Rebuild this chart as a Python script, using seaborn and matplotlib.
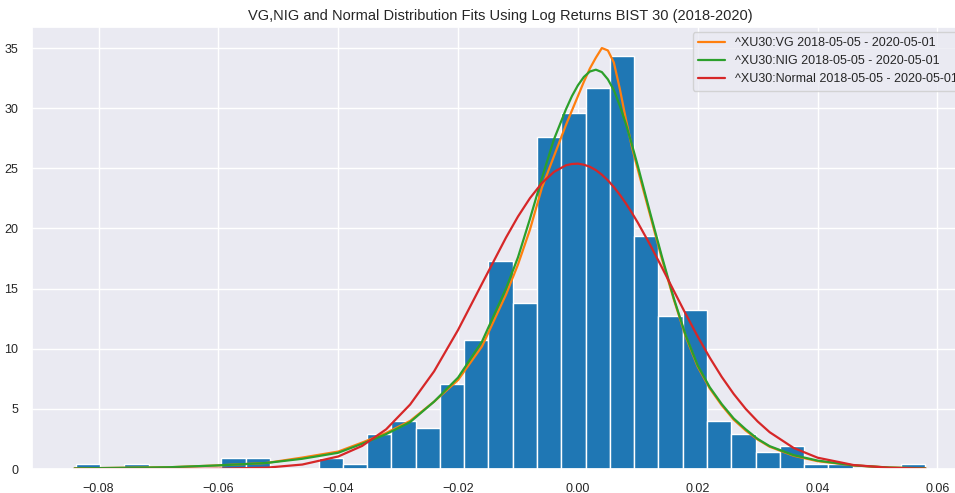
import matplotlib
matplotlib.use("Agg")
import matplotlib.pyplot as plt
import numpy as np
import pandas as pd
import seaborn as sns

# histograma das log-retornos (densidade por classe), 35 classes
bin_min = -0.0838
bin_max = 0.058
n_bins = 35
bin_heights = [0.45, 0, 0.45, 0, 0, 0, 0.95, 0.95, 0, 0,
               0.95, 0.45, 2.95, 3.95, 3.45, 7.05, 10.7, 17.3, 13.8, 27.6,
               29.6, 31.7, 34.3, 19.4, 12.7, 13.2, 4.0, 2.95, 1.45, 1.95,
               0.45, 0.45, 0, 0, 0.45]

# curvas ajustadas
x_fit = [-0.084, -0.076, -0.068, -0.060, -0.052, -0.046, -0.040, -0.036, -0.032, -0.028,
         -0.024, -0.020, -0.016, -0.012, -0.010, -0.008, -0.006, -0.004, -0.002, -0.001,
         0.000, 0.001, 0.002, 0.003, 0.004, 0.005, 0.006, 0.007, 0.008, 0.009,
         0.010, 0.012, 0.014, 0.016, 0.018, 0.020, 0.022, 0.024, 0.026, 0.028,
         0.030, 0.032, 0.036, 0.040, 0.046, 0.052, 0.058]
vg_fit = [0.05, 0.1, 0.15, 0.3, 0.5, 0.95, 1.45, 2.2, 3.0, 4.0,
          5.6, 7.4, 10.2, 14.5, 17.0, 19.9, 23.4, 26.0, 28.6, 29.8,
          31.0, 32.2, 33.3, 34.2, 35.0, 34.8, 33.8, 31.6, 29.1, 26.8,
          24.9, 21.2, 17.5, 14.1, 11.0, 8.5, 6.7, 5.3, 4.1, 3.2,
          2.45, 1.85, 1.1, 0.65, 0.3, 0.12, 0.05]
nig_fit = [0.05, 0.1, 0.15, 0.3, 0.5, 0.85, 1.35, 2.1, 2.9, 3.9,
           5.6, 7.6, 10.6, 15.0, 17.6, 20.8, 24.2, 27.4, 29.9, 31.0,
           31.9, 32.6, 33.05, 33.2, 33.0, 32.4, 31.5, 30.2, 28.7, 27.0,
           25.2, 21.4, 17.7, 14.2, 11.1, 8.6, 6.8, 5.4, 4.2, 3.3,
           2.5, 1.9, 1.15, 0.7, 0.3, 0.12, 0.05]
normal_fit = [0.0, 0.0, 0.0, 0.02, 0.11, 0.37, 1.04, 1.92, 3.30, 5.36,
              8.12, 11.56, 15.41, 19.24, 20.99, 22.52, 23.78, 24.70, 25.25, 25.36,
              25.39, 25.30, 25.13, 24.85, 24.47, 24.00, 23.44, 22.80, 22.09, 21.31,
              20.48, 18.69, 16.78, 14.82, 12.88, 11.01, 9.26, 7.66, 6.24, 5.00,
              3.95, 3.06, 1.75, 0.94, 0.33, 0.10, 0.03]

labels = ["^XU30:VG 2018-05-05 - 2020-05-01",
          "^XU30:NIG 2018-05-05 - 2020-05-01",
          "^XU30:Normal 2018-05-05 - 2020-05-01"]

sns.set_theme(style="darkgrid")
plt.rcParams['font.family'] = ['Liberation Sans', 'DejaVu Sans']

fig = plt.figure(figsize=(9.55, 4.93), dpi=100)
ax = fig.add_axes([32 / 955, 24 / 493, 936 / 955, 442 / 493])

width = (bin_max - bin_min) / n_bins
hist_df = pd.DataFrame({
    "centro": bin_min + width * (np.arange(n_bins) + 0.5),
    "altura": bin_heights,
})
sns.histplot(data=hist_df, x="centro", weights="altura", bins=n_bins,
             binrange=(bin_min, bin_max), stat="count",
             color="#1f77b4", alpha=1, edgecolor="white", linewidth=1.0, ax=ax)

sns.lineplot(x=x_fit, y=vg_fit, color="#ff7f0e", linewidth=1.6, label=labels[0], ax=ax)
sns.lineplot(x=x_fit, y=nig_fit, color="#2ca02c", linewidth=1.6, label=labels[1], ax=ax)
sns.lineplot(x=x_fit, y=normal_fit, color="#d62728", linewidth=1.6, label=labels[2], ax=ax)

ax.set_ylabel("")
ax.set_xlabel("")
ax.tick_params(labelsize=9, pad=4)
ax.set_title("VG,NIG and Normal Distribution Fits Using Log Returns BIST 30 (2018-2020)",
             fontsize=10.5, pad=5)
ax.legend(loc="upper right", fontsize=9, borderaxespad=0.4, handlelength=2.2)

fig.savefig("out.png", dpi=100)
